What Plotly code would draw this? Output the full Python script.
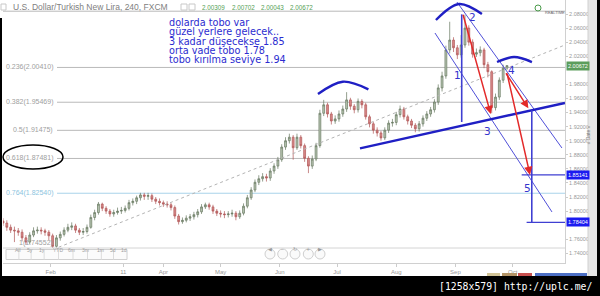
import plotly.graph_objects as go
import pandas as pd

# ---------------- data ----------------
bar_start = "2013-01-07"
bar_freq = "2D"

opens = [1.786, 1.783, 1.777, 1.773, 1.772, 1.770, 1.762, 1.756, 1.766, 1.772,
         1.773, 1.772, 1.770, 1.765, 1.750, 1.762, 1.767, 1.773, 1.777, 1.779,
         1.773, 1.770, 1.771, 1.777, 1.791, 1.798, 1.810, 1.804, 1.800, 1.796,
         1.798, 1.800, 1.801, 1.804, 1.812, 1.814, 1.819, 1.823, 1.821, 1.822,
         1.817, 1.814, 1.812, 1.810, 1.809, 1.805, 1.793, 1.785, 1.787, 1.790,
         1.792, 1.795, 1.799, 1.806, 1.809, 1.806, 1.800, 1.797, 1.796, 1.795,
         1.796, 1.797, 1.792, 1.797, 1.807, 1.819, 1.830, 1.841, 1.846, 1.849,
         1.847, 1.857, 1.864, 1.873, 1.891, 1.900, 1.905, 1.890, 1.905, 1.893,
         1.875, 1.864, 1.874, 1.893, 1.939, 1.951, 1.938, 1.928, 1.931, 1.938,
         1.945, 1.958, 1.949, 1.944, 1.956, 1.951, 1.934, 1.924, 1.915, 1.911,
         1.904, 1.915, 1.925, 1.926, 1.937, 1.945, 1.934, 1.928, 1.922, 1.917,
         1.924, 1.932, 1.938, 1.944, 1.955, 1.975, 1.992, 2.029, 2.043, 2.032,
         2.022, 2.036, 2.060, 2.040, 2.023, 2.025, 2.029, 2.008, 1.998, 1.947,
         1.962, 1.986, 2.00309]
highs = [1.790, 1.787, 1.781, 1.778, 1.776, 1.774, 1.766, 1.770, 1.777, 1.778,
         1.777, 1.775, 1.773, 1.768, 1.766, 1.771, 1.777, 1.782, 1.784, 1.782,
         1.776, 1.776, 1.781, 1.795, 1.802, 1.813, 1.812, 1.807, 1.803, 1.802,
         1.805, 1.806, 1.808, 1.816, 1.818, 1.822, 1.826, 1.826, 1.826, 1.825,
         1.820, 1.818, 1.815, 1.814, 1.812, 1.808, 1.796, 1.791, 1.794, 1.796,
         1.799, 1.803, 1.810, 1.812, 1.812, 1.809, 1.803, 1.801, 1.800, 1.800,
         1.802, 1.800, 1.801, 1.811, 1.823, 1.834, 1.845, 1.851, 1.854, 1.853,
         1.861, 1.868, 1.877, 1.895, 1.905, 1.910, 1.908, 1.910, 1.908, 1.896,
         1.878, 1.879, 1.897, 1.944, 1.958, 1.954, 1.941, 1.936, 1.943, 1.950,
         1.969, 1.961, 1.952, 1.960, 1.959, 1.954, 1.937, 1.927, 1.919, 1.914,
         1.919, 1.929, 1.931, 1.941, 1.950, 1.948, 1.937, 1.931, 1.925, 1.928,
         1.936, 1.942, 1.948, 1.959, 1.980, 1.998, 2.035, 2.069, 2.047, 2.036,
         2.050, 2.079, 2.064, 2.044, 2.031, 2.034, 2.032, 2.012, 2.000, 1.967,
         1.990, 2.008, 2.00702]
lows = [1.779, 1.772, 1.769, 1.756, 1.765, 1.757, 1.752, 1.753, 1.763, 1.768,
        1.767, 1.765, 1.759, 1.7455, 1.748, 1.758, 1.764, 1.770, 1.773, 1.769,
        1.766, 1.766, 1.768, 1.775, 1.787, 1.795, 1.800, 1.796, 1.792, 1.792,
        1.795, 1.796, 1.798, 1.801, 1.808, 1.810, 1.815, 1.816, 1.816, 1.813,
        1.810, 1.808, 1.806, 1.805, 1.801, 1.789, 1.781, 1.782, 1.784, 1.786,
        1.788, 1.791, 1.796, 1.803, 1.802, 1.796, 1.793, 1.791, 1.790, 1.791,
        1.792, 1.787, 1.789, 1.794, 1.804, 1.816, 1.827, 1.837, 1.842, 1.842,
        1.843, 1.853, 1.860, 1.870, 1.887, 1.896, 1.873, 1.887, 1.889, 1.870,
        1.854, 1.860, 1.871, 1.890, 1.935, 1.933, 1.923, 1.924, 1.927, 1.934,
        1.941, 1.944, 1.939, 1.940, 1.946, 1.930, 1.919, 1.910, 1.906, 1.900,
        1.901, 1.911, 1.920, 1.922, 1.933, 1.930, 1.923, 1.918, 1.912, 1.913,
        1.920, 1.928, 1.934, 1.940, 1.951, 1.970, 1.988, 2.024, 2.026, 2.016,
        2.018, 2.032, 2.035, 2.018, 2.019, 2.020, 2.003, 1.990, 1.939, 1.943,
        1.958, 1.982, 2.00043]
closes = [1.783, 1.777, 1.773, 1.772, 1.770, 1.762, 1.756, 1.766, 1.772, 1.773,
          1.772, 1.770, 1.765, 1.750, 1.762, 1.767, 1.773, 1.777, 1.779, 1.773,
          1.770, 1.771, 1.777, 1.791, 1.798, 1.810, 1.804, 1.800, 1.796, 1.798,
          1.800, 1.801, 1.804, 1.812, 1.814, 1.819, 1.823, 1.821, 1.822, 1.817,
          1.814, 1.812, 1.810, 1.809, 1.805, 1.793, 1.785, 1.787, 1.790, 1.792,
          1.795, 1.799, 1.806, 1.809, 1.806, 1.800, 1.797, 1.796, 1.795, 1.796,
          1.797, 1.792, 1.797, 1.807, 1.819, 1.830, 1.841, 1.846, 1.849, 1.847,
          1.857, 1.864, 1.873, 1.891, 1.900, 1.905, 1.890, 1.905, 1.893, 1.875,
          1.864, 1.874, 1.893, 1.939, 1.951, 1.938, 1.928, 1.931, 1.938, 1.945,
          1.958, 1.949, 1.944, 1.956, 1.951, 1.934, 1.924, 1.915, 1.911, 1.904,
          1.915, 1.925, 1.926, 1.937, 1.945, 1.934, 1.928, 1.922, 1.917, 1.924,
          1.932, 1.938, 1.944, 1.955, 1.975, 1.992, 2.029, 2.043, 2.032, 2.022,
          2.036, 2.060, 2.040, 2.023, 2.025, 2.029, 2.008, 1.998, 1.947, 1.962,
          1.986, 2.003, 2.00672]

month_tick_dates = ["2013-02-01", "2013-03-11", "2013-04-01", "2013-05-01", "2013-06-01",
                    "2013-07-01", "2013-08-01", "2013-09-01", "2013-10-01"]
month_tick_labels = ["Feb", "11", "Apr", "May", "Jun", "Jul", "Aug", "Sep", "Oct"]

# price-scale labels that are visible (2.00 and 1.78 sit under the price boxes)
price_ticks = [1.74, 1.76, 1.80, 1.82, 1.84, 1.86, 1.88, 1.90, 1.92, 1.94, 1.96, 1.98,
               2.02, 2.04, 2.06, 2.08]

fib_ratios = ["0", "0.236", "0.382", "0.5", "0.618", "0.764", "1"]
fib_prices = [2.08398, 2.00410, 1.95469, 1.91475, 1.87481, 1.82540, 1.74552]

header_title = "U.S. Dollar/Turkish New Lira, 240, FXCM"
header_ohlc = ["2.00309", "2.00702", "2.00043", "2.00672"]

note_lines = ["dolarda tobo var", "güzel yerlere gelecek..", "3 kadar düşecekse 1.85",
              "orta vade tobo 1.78", "tobo kırılma seviye 1.94"]

range_buttons = ["All", "5y", "1y", "YTD", "6m", "3m", "1m", "5d", "1d"]

# user drawings (date, price)
trend_dotted = (["2013-02-02 05:00", "2013-10-28 09:00"], [1.7455, 2.036])
neckline = (["2013-07-13", "2013-10-28 09:00"], [1.8892, 1.9537])
arc_left = (["2013-06-21", "2013-07-04", "2013-07-17 10:00"], [1.9664, 1.9838, 1.9730])
arc_head = (["2013-08-21 19:00", "2013-09-02 21:00", "2013-09-14 21:00"], [2.0715, 2.0942, 2.0800])
arc_right = (["2013-09-22 19:00", "2013-10-01 17:00", "2013-10-11 02:00"], [2.0118, 2.0189, 2.0118])
channel_low = (["2013-08-21 07:00", "2013-10-21 14:00"], [2.0530, 1.7988])
channel_up = (["2013-09-01 19:00", "2013-10-26 19:00"], [2.0970, 1.8897])
measure_1 = (["2013-09-04 07:00", "2013-09-04 07:00"], [2.0795, 1.9266])
measure_2 = (["2013-10-11", "2013-10-11"], [1.9433, 1.78404])
target_185 = (["2013-10-05 17:00", "2013-10-28 10:00"], [1.85141, 1.85141])
target_178 = (["2013-10-08 07:00", "2013-10-28 10:00"], [1.78404, 1.78404])
red_arrows = [("2013-09-04 19:00", 2.081, "2013-09-19 12:00", 1.938),
              ("2013-09-27 00:00", 1.998, "2013-10-09 05:00", 1.946),
              ("2013-09-27 21:00", 1.9976, "2013-10-10 02:00", 1.8513)]
wave_labels = ["1", "2", "3", "4", "5"]

# ---------------- figure ----------------
dates = pd.date_range(bar_start, periods=len(closes), freq=bar_freq)

W, H = 600, 296
L, R, T, B = 3, 565, 0, 263


def px(x):
    return (x - L) / (R - L)


def py(y):
    return (B - y) / (B - T)


fig = go.Figure()
fig.add_trace(go.Candlestick(
    x=dates, open=opens, high=highs, low=lows, close=closes,
    increasing=dict(line=dict(color="#66775f", width=0.7), fillcolor="#b9c6b3"),
    decreasing=dict(line=dict(color="#b05656", width=0.7), fillcolor="#d98a8a"),
    whiskerwidth=0, hoverinfo="skip", showlegend=False))


def add_line(pts, color, width, dash="solid", shape="linear"):
    fig.add_trace(go.Scatter(x=pts[0], y=pts[1], mode="lines",
                             line=dict(color=color, width=width, dash=dash, shape=shape),
                             hoverinfo="skip", showlegend=False))


add_line(trend_dotted, "#b4b4b4", 1, dash="dot")
add_line(channel_low, "#5050d8", 1)
add_line(channel_up, "#5050d8", 1)
add_line(neckline, "#1f1fc4", 2.4)
add_line(arc_left, "#1f1fc4", 2.4, shape="spline")
add_line(arc_head, "#1f1fc4", 2.4, shape="spline")
add_line(arc_right, "#1f1fc4", 2.4, shape="spline")
add_line(measure_1, "#3f3fd2", 1.6)
add_line(measure_2, "#3f3fd2", 1.6)
add_line(target_185, "#3f3fd2", 1.2)
add_line(target_178, "#3f3fd2", 1.2)

for sx, sy, ex, ey in red_arrows:
    fig.add_annotation(x=ex, y=ey, ax=sx, ay=sy, xref="x", yref="y", axref="x", ayref="y",
                       text="", showarrow=True, arrowhead=2, arrowsize=1.1, arrowwidth=1.5,
                       arrowcolor="#e32a2a", standoff=0)

shapes = []
# fibonacci lines
for ratio, price in zip(fib_ratios, fib_prices):
    col = "#a9d3ea" if ratio == "0.764" else "#b9b9b9"
    x0 = 0 if ratio == "0" else px(57)
    shapes.append(dict(type="line", xref="paper", yref="y", x0=x0, x1=1, y0=price, y1=price,
                       line=dict(color=col, width=1), layer="below"))
    if ratio != "0":
        fig.add_annotation(xref="paper", yref="y", x=px(55), y=price, xanchor="right",
                           yanchor="middle", showarrow=False, text=f"{ratio}({price:.5f})",
                           yshift=6 if ratio == "1" else 0,
                           font=dict(size=7, color="#8cc4e0" if ratio == "0.764" else "#a0a0a0",
                                     family="Liberation Sans"))

# ellipse round the 0.618 label
shapes.append(dict(type="circle", xref="paper", yref="paper", x0=px(3), x1=px(63),
                   y0=py(169), y1=py(145), line=dict(color="#000000", width=1.5)))

# range-selector bar
shapes.append(dict(type="rect", xref="paper", yref="paper", x0=0, x1=1, y0=py(263), y1=py(248),
                   fillcolor="white", line=dict(width=0), layer="above"))
shapes.append(dict(type="line", xref="paper", yref="paper", x0=0, x1=1, y0=py(248), y1=py(248),
                   line=dict(color="#d4d4d4", width=1), layer="above"))
shapes.append(dict(type="rect", xref="paper", yref="paper", x0=px(6), x1=px(127),
                   y0=py(259.5), y1=py(249.5), fillcolor="#fbfbfb",
                   line=dict(color="#d0d0d0", width=1), layer="above"))
btn_x = [12.7, 25, 37.3, 51, 66, 80, 95, 107.7, 119.3]
for i, (lab, bx) in enumerate(zip(range_buttons, btn_x)):
    fig.add_annotation(xref="paper", yref="paper", x=px(bx), y=py(254.8), text=lab,
                       showarrow=False, font=dict(size=5, color="#a0a0a0", family="Liberation Sans"))
    if i > 0:
        dx = (btn_x[i - 1] + bx) / 2
        shapes.append(dict(type="line", xref="paper", yref="paper", x0=px(dx), x1=px(dx),
                           y0=py(259.5), y1=py(249.5), line=dict(color="#dddddd", width=1),
                           layer="above"))
nav_x = [270, 282.7, 295, 308.3, 320]
nav_glyph = ["◀", "–", "↻", "+", "▶"]
for nx, g in zip(nav_x, nav_glyph):
    shapes.append(dict(type="circle", xref="paper", yref="paper", x0=px(nx - 5), x1=px(nx + 5),
                       y0=py(259), y1=py(249), fillcolor="#fafafa",
                       line=dict(color="#cfcfcf", width=1), layer="above"))
    fig.add_annotation(xref="paper", yref="paper", x=px(nx), y=py(254), text=g, showarrow=False,
                       font=dict(size=5, color="#999999", family="DejaVu Sans"))

# frame pieces of the screenshot
shapes.append(dict(type="rect", xref="paper", yref="paper", x0=px(588), x1=px(597), y0=py(276),
                   y1=py(0), fillcolor="#e6e6e6", line=dict(width=0), layer="above"))
shapes.append(dict(type="line", xref="paper", yref="paper", x0=px(588), x1=px(588), y0=py(276),
                   y1=py(0), line=dict(color="#d0d0d0", width=1), layer="above"))
shapes.append(dict(type="rect", xref="paper", yref="paper", x0=px(597), x1=px(601), y0=py(297),
                   y1=py(0), fillcolor="#000000", line=dict(width=0), layer="above"))
shapes.append(dict(type="rect", xref="paper", yref="paper", x0=px(-1), x1=px(2), y0=py(297),
                   y1=py(18), fillcolor="#000000", line=dict(width=0), layer="above"))
shapes.append(dict(type="rect", xref="paper", yref="paper", x0=px(-1), x1=px(601), y0=py(297),
                   y1=py(276), fillcolor="#000000", line=dict(width=0), layer="above"))
for x0, x1, c in [(487, 500, "#d2c497"), (502, 517, "#b39467"), (518, 532, "#c8504f"),
                  (535, 587, "#4c6fc4")]:
    shapes.append(dict(type="rect", xref="paper", yref="paper", x0=px(x0), x1=px(x1),
                       y0=py(276), y1=py(273), fillcolor=c, line=dict(width=0), layer="above"))
# header icons
for x0, x1 in [(1, 6), (181, 187), (189, 195)]:
    shapes.append(dict(type="rect", xref="paper", yref="paper", x0=px(x0), x1=px(x1), y0=py(10),
                       y1=py(4), line=dict(color="#c8c8c8", width=1), layer="above"))
# realtime badge
shapes.append(dict(type="circle", xref="paper", yref="paper", x0=px(535), x1=px(541), y0=py(11),
                   y1=py(5), line=dict(color="#4a9a4a", width=1), layer="above"))
fig.add_annotation(xref="paper", yref="paper", x=px(543), y=py(8), xanchor="left", text="REALTIME",
                   showarrow=False, font=dict(size=4, color="#666666", family="Liberation Sans"))

fig.update_layout(shapes=shapes)

# header texts
fig.add_annotation(xref="paper", yref="paper", x=px(11), y=py(7), xanchor="left", yanchor="middle",
                   text=header_title, showarrow=False,
                   font=dict(size=8.5, color="#808080", family="Liberation Sans"))
for hx, val in zip([200, 230, 259, 288], header_ohlc):
    fig.add_annotation(xref="paper", yref="paper", x=px(hx), y=py(7.5), xanchor="left",
                       yanchor="middle", text=val, showarrow=False,
                       font=dict(size=6.3, color="#56a056", family="Liberation Sans"))

# blue note
for i, line in enumerate(note_lines):
    fig.add_annotation(xref="paper", yref="paper", x=px(167), y=py(22.6 + 9.35 * i), xanchor="left",
                       yanchor="middle", text=line, showarrow=False,
                       font=dict(size=9.7, color="#2c2cd0", family="DejaVu Sans"))

# wave numbers
for lab, (lx, ly) in zip(wave_labels, [(457, 75), (472, 17), (487, 131), (511, 70), (527, 188)]):
    fig.add_annotation(xref="paper", yref="paper", x=px(lx), y=py(ly), xanchor="center",
                       yanchor="middle", text=lab, showarrow=False,
                       font=dict(size=10.5, color="#3434cc", family="DejaVu Sans"))

# axis price boxes
for price, bg in [(closes[-1], "#5c9d5c"), (target_185[1][0], "#1b1bf0"), (target_178[1][0], "#1b1bf0")]:
    fig.add_annotation(xref="paper", yref="y", x=1, y=price, xanchor="left", yanchor="middle",
                       xshift=1, text=f"{price:.5f}", showarrow=False, bgcolor=bg, borderpad=1,
                       font=dict(size=5.5, color="white", family="Liberation Sans"))

fig.add_annotation(xref="paper", yref="paper", x=px(592.5), y=py(135), text="« Date »", textangle=-90,
                   showarrow=False, font=dict(size=5, color="#777777", family="Liberation Sans"))

# watermark text in bottom band
fig.add_annotation(xref="paper", yref="paper", x=px(594), y=py(286), xanchor="right", yanchor="middle",
                   text="[1258x579] http://uplc.me/", showarrow=False,
                   font=dict(size=9.8, color="white", family="DejaVu Sans Mono"))

fig.update_layout(
    width=W, height=H, template="none",
    margin=dict(l=L, r=W - R, t=T, b=H - B, pad=0),
    paper_bgcolor="white", plot_bgcolor="white", showlegend=False,
    font=dict(family="Liberation Sans"),
    xaxis=dict(type="date", range=["2013-01-07", "2013-10-28 09:36"], rangeslider=dict(visible=False),
               tickmode="array", tickvals=month_tick_dates, ticktext=month_tick_labels,
               ticks="outside", ticklen=3, tickcolor="#cccccc", showgrid=False, zeroline=False,
               showline=True, linecolor="#d0d0d0", linewidth=1, automargin=False,
               tickfont=dict(size=6, color="#999999", family="Liberation Sans")),
    yaxis=dict(side="right", range=[1.72631, 2.09989], tickmode="array", tickvals=price_ticks,
               tickformat=".5f", ticks="outside", ticklen=2, tickcolor="#cccccc", showgrid=False,
               zeroline=False, showline=True, linecolor="#d0d0d0", linewidth=1, automargin=False,
               tickfont=dict(size=5.5, color="#999999", family="Liberation Sans")),
)

fig.write_html("out.html", config={"displayModeBar": False})
